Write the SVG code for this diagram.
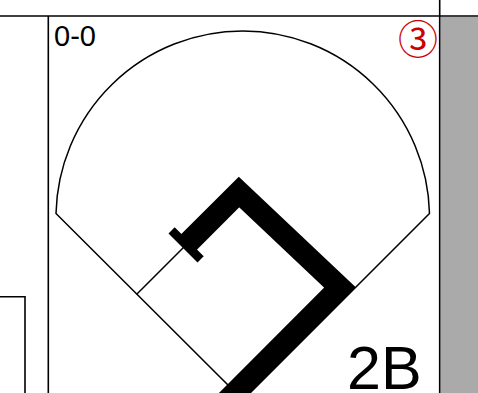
<svg xmlns="http://www.w3.org/2000/svg" width="478" height="393" viewBox="0 0 478 393">
<style>
.frame{stroke:#000;stroke-width:1.6;fill:none}
.thin{stroke:#000;stroke-width:1.5;fill:none}
.thick{stroke:#000;stroke-width:22;fill:none;stroke-linejoin:miter;stroke-miterlimit:10}
.lbl{font-family:"Liberation Sans",Arial,sans-serif;fill:#000}
</style>
<rect width="478" height="393" fill="#fff"/>
<g id="grid">
<rect x="440.5" y="16.8" width="37.5" height="376.2" fill="#aaaaaa"/>
<line class="frame" x1="0" y1="16" x2="478" y2="16"/>
<line class="frame" x1="48.3" y1="16" x2="48.3" y2="393"/>
<line class="frame" x1="439.7" y1="0" x2="439.7" y2="393"/>
<polyline class="frame" points="0,296.7 25,296.7 25,393"/>
</g>
<g id="field">
<path class="thin" d="M56,213.5 A186.8,186.8 0 0 1 429.5,213.5 L243,400 Z"/>
<line class="thin" x1="136.7" y1="294.3" x2="243" y2="188"/>
</g>
<g id="connectors">
<path class="thick" d="M217,410.5 L340,287.4 L239,192 L186.1,244.9"/>
<line x1="171.6" y1="230.4" x2="200.6" y2="259.4" stroke="#000" stroke-width="8.8"/>
</g>
<g id="count"><text class="lbl" x="54" y="45.5" font-size="29">0-0</text></g>
<g id="batter"><text x="418" y="54" font-size="40" text-anchor="middle" fill="#cc0000" style="font-family:'Noto Sans CJK JP',sans-serif">③</text></g>
<g id="result"><text class="lbl" x="347" y="389" font-size="61">2B</text></g>
</svg>
